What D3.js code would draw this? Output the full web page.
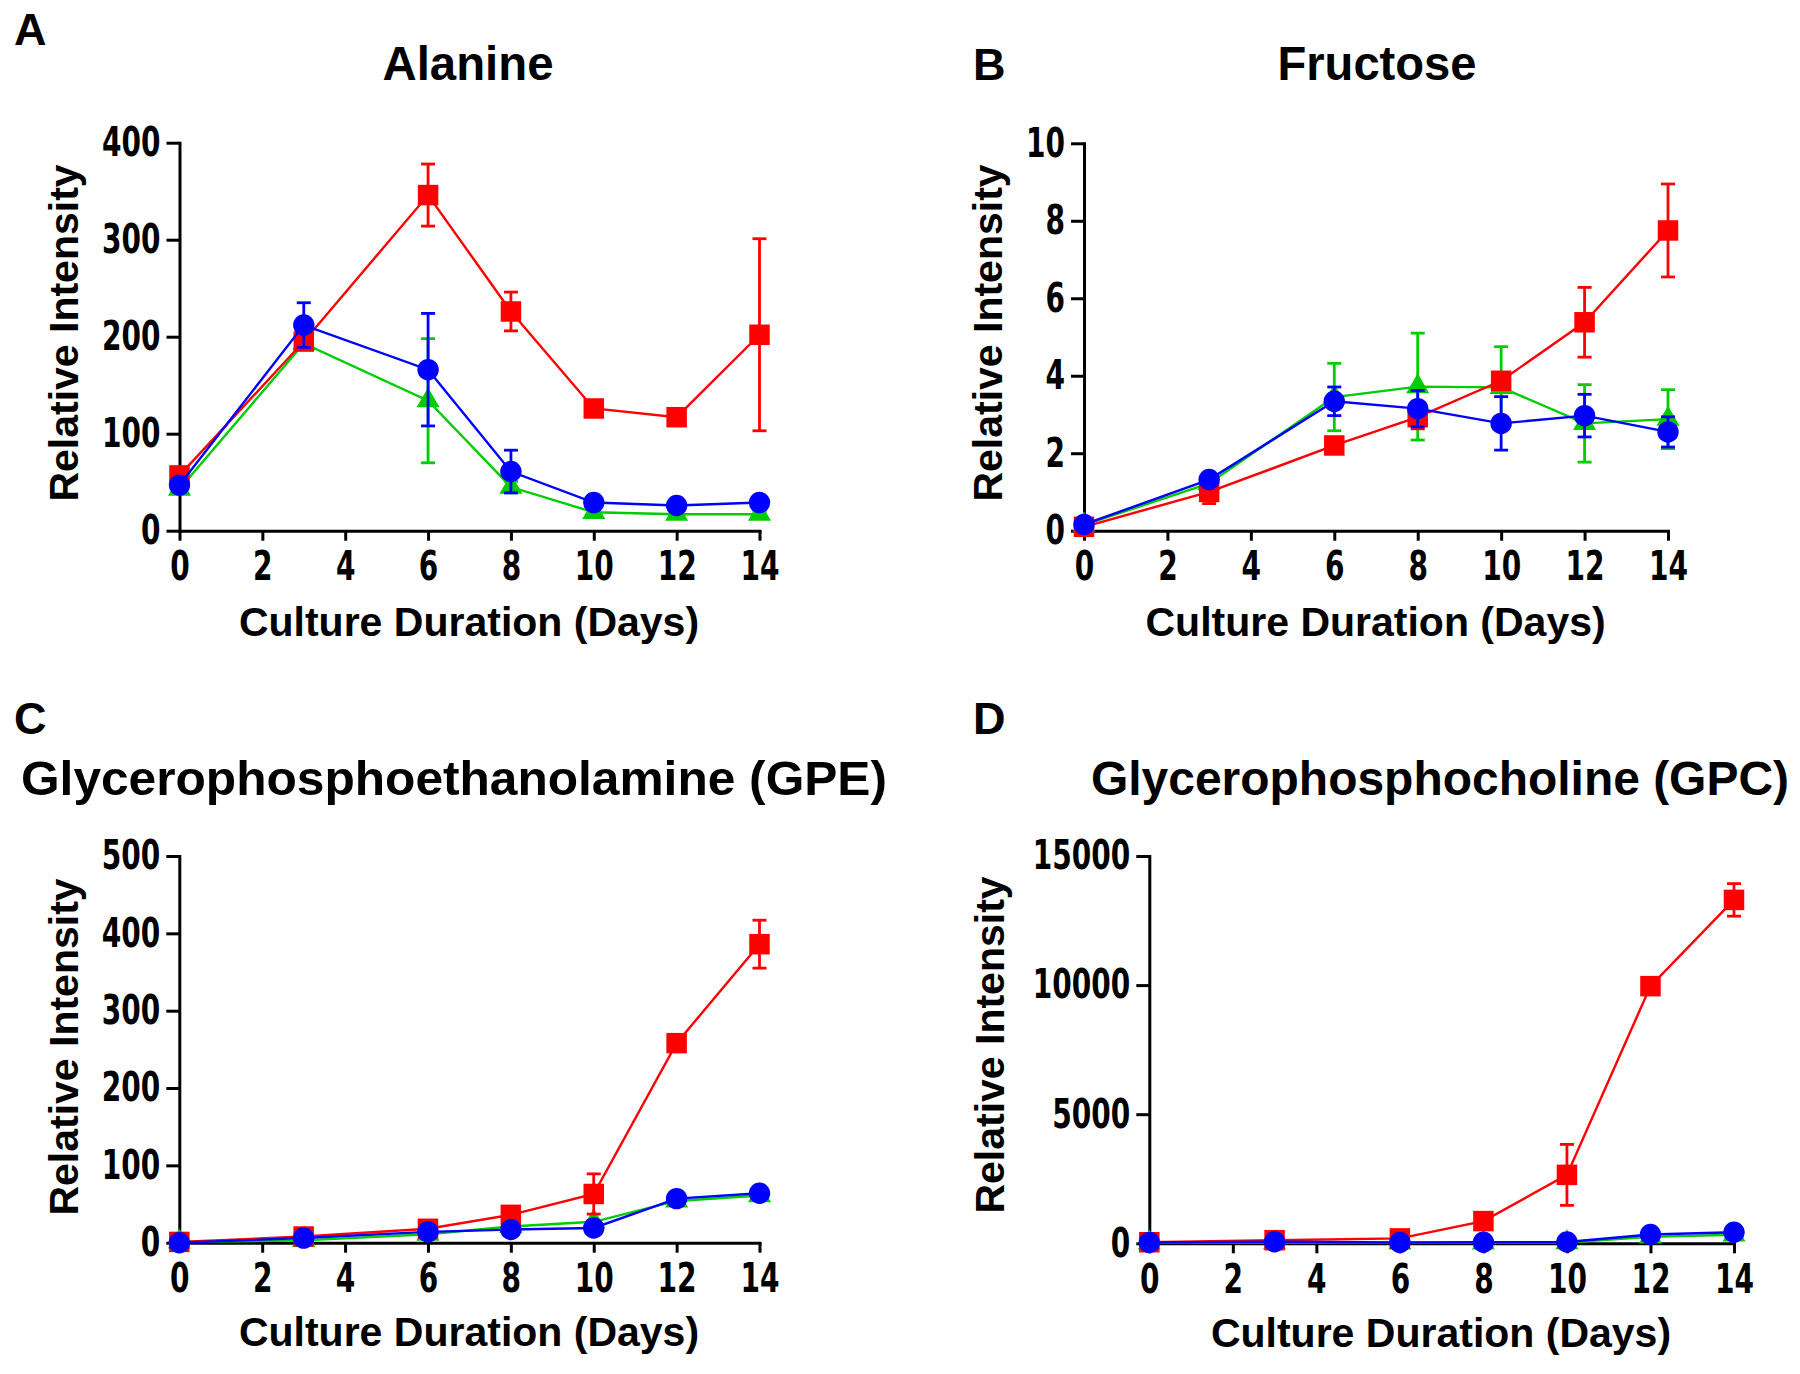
<!DOCTYPE html>
<html>
<head>
<meta charset="utf-8">
<script src="https://cdn.jsdelivr.net/npm/d3@7"></script>
<style>
  html, body { margin: 0; padding: 0; background: #fff; }
  svg { display: block; }
</style>
</head>
<body>
<svg id="chart" width="1800" height="1374"></svg>
<script>
// ---------------- DATA ----------------
const days = [0, 3, 6, 8, 10, 12, 14];
const xTickValues = [0, 2, 4, 6, 8, 10, 12, 14];

// Panel A: Alanine
const alanineTicks = [0, 100, 200, 300, 400];
const alanineRed = [57, 195, 346, 226, 126, 117, 202];
const alanineRedSD = [6, 8, 32, 20, 6, 5, 99];
const alanineGreen = [43, 193, 134, 45, 19, 17, 17];
const alanineGreenSD = [4, 6, 64, 6, 3, 3, 3];
const alanineBlue = [47, 212, 166, 61, 29, 26, 29];
const alanineBlueSD = [4, 23, 58, 22, 3, 3, 3];

// Panel B: Fructose
const fructoseTicks = [0, 2, 4, 6, 8, 10];
const fructoseRed = [0.1, 1.0, 2.2, 2.93, 3.87, 5.38, 7.75];
const fructoseRedSD = [0.05, 0.3, 0.1, 0.3, 0.1, 0.9, 1.2];
const fructoseGreen = [0.15, 1.22, 3.45, 3.72, 3.7, 2.77, 2.88];
const fructoseGreenSD = [0.05, 0.1, 0.87, 1.38, 1.05, 1.0, 0.76];
const fructoseBlue = [0.16, 1.32, 3.34, 3.15, 2.77, 2.97, 2.55];
const fructoseBlueSD = [0.05, 0.1, 0.37, 0.47, 0.69, 0.55, 0.39];

// Panel C: GPE
const gpeTicks = [0, 100, 200, 300, 400, 500];
const gpeRed = [1, 8, 18, 36, 63, 258, 386];
const gpeRedSD = [1, 4, 3, 4, 26, 5, 31];
const gpeGreen = [1, 3, 11, 21, 27, 54, 61];
const gpeGreenSD = [1, 2, 2, 2, 2, 3, 3];
const gpeBlue = [0, 6, 14, 17, 19, 57, 64];
const gpeBlueSD = [1, 2, 2, 2, 2, 3, 3];

// Panel D: GPC
const gpcTicks = [0, 5000, 10000, 15000];
const gpcRed = [40, 120, 190, 860, 2650, 9960, 13300];
const gpcRedSD = [20, 40, 40, 100, 1180, 150, 630];
const gpcGreen = [20, 30, 20, 20, 30, 250, 330];
const gpcGreenSD = [10, 10, 10, 10, 10, 30, 30];
const gpcBlue = [30, 60, 30, 40, 50, 340, 430];
const gpcBlueSD = [10, 20, 10, 10, 20, 40, 40];

const titles = ["Alanine", "Fructose", "Glycerophosphoethanolamine (GPE)", "Glycerophosphocholine (GPC)"];
const letters = ["A", "B", "C", "D"];
const xLabel = "Culture Duration (Days)";
const yLabel = "Relative Intensity";

// ---------------- LAYOUT ----------------
const colors = { green: "#00CC00", red: "#FF0000", blue: "#0000FF" };
const layout = [
  { x0: 179.5, x1: 759.5, yb: 530.7, yt: 142.7, tx: 468, ty: 80, tw: 171, lx: 14, ly: 45, ylx: 78, yly: 333, xlx: 469, xly: 636 },
  { x0: 1084, x1: 1668, yb: 530.7, yt: 143.3, tx: 1377, ty: 80, tw: 199, lx: 973, ly: 80, ylx: 1002, yly: 333, xlx: 1375.6, xly: 636 },
  { x0: 179.3, x1: 759.5, yb: 1242.7, yt: 856, tx: 454, ty: 795, tw: 866, lx: 14, ly: 734, ylx: 78, yly: 1047, xlx: 469, xly: 1346 },
  { x0: 1149.3, x1: 1734, yb: 1243.3, yt: 856, tx: 1440, ty: 795, tw: 698, lx: 973, ly: 734, ylx: 1004, yly: 1045, xlx: 1441, xly: 1347 }
];

const panels = [
  { ticks: alanineTicks, series: [
    { c: "green", sym: d3.symbolTriangle, v: alanineGreen, e: alanineGreenSD },
    { c: "red", sym: d3.symbolSquare, v: alanineRed, e: alanineRedSD },
    { c: "blue", sym: d3.symbolCircle, v: alanineBlue, e: alanineBlueSD } ] },
  { ticks: fructoseTicks, series: [
    { c: "green", sym: d3.symbolTriangle, v: fructoseGreen, e: fructoseGreenSD },
    { c: "red", sym: d3.symbolSquare, v: fructoseRed, e: fructoseRedSD },
    { c: "blue", sym: d3.symbolCircle, v: fructoseBlue, e: fructoseBlueSD } ] },
  { ticks: gpeTicks, series: [
    { c: "green", sym: d3.symbolTriangle, v: gpeGreen, e: gpeGreenSD },
    { c: "red", sym: d3.symbolSquare, v: gpeRed, e: gpeRedSD },
    { c: "blue", sym: d3.symbolCircle, v: gpeBlue, e: gpeBlueSD } ] },
  { ticks: gpcTicks, series: [
    { c: "green", sym: d3.symbolTriangle, v: gpcGreen, e: gpcGreenSD },
    { c: "red", sym: d3.symbolSquare, v: gpcRed, e: gpcRedSD },
    { c: "blue", sym: d3.symbolCircle, v: gpcBlue, e: gpcBlueSD } ] }
];

const symSize = { "green": 230, "red": 420, "blue": 360 };
const tickFont = '"Liberation Sans Narrow", "Arial Narrow", "DejaVu Sans Condensed", sans-serif';
const mainFont = '"Liberation Sans", Arial, Helvetica, sans-serif';

const svg = d3.select("#chart");

panels.forEach((p, i) => {
  const L = layout[i];
  const yMax = p.ticks[p.ticks.length - 1];
  const x = d3.scaleLinear().domain([0, 14]).range([L.x0, L.x1]);
  const y = d3.scaleLinear().domain([0, yMax]).range([L.yb, L.yt]);
  const g = svg.append("g");

  // axes
  const xAxis = g.append("g").attr("transform", `translate(0,${L.yb})`)
    .call(d3.axisBottom(x).tickValues(xTickValues).tickSize(10).tickSizeOuter(0).tickPadding(11).tickFormat(d3.format("d")));
  const yAxis = g.append("g").attr("transform", `translate(${L.x0},0)`)
    .call(d3.axisLeft(y).tickValues(p.ticks).tickSize(13).tickSizeOuter(0).tickPadding(6).tickFormat(d3.format("d")));
  [xAxis, yAxis].forEach(a => {
    a.select(".domain").attr("stroke", "#000").attr("stroke-width", 3).attr("stroke-linecap", "square");
    a.selectAll(".tick line").attr("stroke", "#000").attr("stroke-width", 3);
    a.selectAll(".tick text")
      .attr("fill", "#000")
      .style("font-family", tickFont)
      .style("font-weight", "bold")
      .style("font-size", "40px")
      .attr("textLength", d => String(d).length * 19.5)
      .attr("lengthAdjust", "spacingAndGlyphs");
  });

  // series
  p.series.forEach(s => {
    const col = colors[s.c];
    const pts = days.map((d, k) => ({ d, v: s.v[k], e: s.e[k] }));
    g.append("path").datum(pts)
      .attr("fill", "none").attr("stroke", col).attr("stroke-width", 2.4)
      .attr("d", d3.line().x(q => x(q.d)).y(q => y(q.v)));
    const eb = g.append("g").attr("stroke", col).attr("stroke-width", 2.8).attr("fill", "none");
    pts.forEach(q => {
      const top = y(q.v + q.e), bot = y(Math.max(q.v - q.e, 0));
      const cx = x(q.d);
      eb.append("line").attr("x1", cx).attr("x2", cx).attr("y1", top).attr("y2", bot);
      eb.append("line").attr("x1", cx - 7).attr("x2", cx + 7).attr("y1", top).attr("y2", top);
      eb.append("line").attr("x1", cx - 7).attr("x2", cx + 7).attr("y1", bot).attr("y2", bot);
    });
    g.append("g").selectAll("path").data(pts).join("path")
      .attr("transform", q => `translate(${x(q.d)},${y(q.v)})`)
      .attr("d", d3.symbol(s.sym, symSize[s.c]))
      .attr("fill", col);
  });

  // texts
  g.append("text").attr("x", L.tx).attr("y", L.ty).attr("text-anchor", "middle")
    .style("font-family", mainFont).style("font-weight", "bold").style("font-size", "48px")
    .attr("textLength", L.tw).attr("lengthAdjust", "spacingAndGlyphs")
    .text(titles[i]);
  g.append("text").attr("x", L.lx).attr("y", L.ly)
    .style("font-family", mainFont).style("font-weight", "bold").style("font-size", "45px")
    .text(letters[i]);
  g.append("text").attr("x", L.xlx).attr("y", L.xly).attr("text-anchor", "middle")
    .style("font-family", mainFont).style("font-weight", "bold").style("font-size", "41px")
    .text(xLabel);
  g.append("text").attr("transform", `translate(${L.ylx},${L.yly}) rotate(-90)`).attr("text-anchor", "middle")
    .style("font-family", mainFont).style("font-weight", "bold").style("font-size", "41px")
    .text(yLabel);
});
</script>
</body>
</html>
